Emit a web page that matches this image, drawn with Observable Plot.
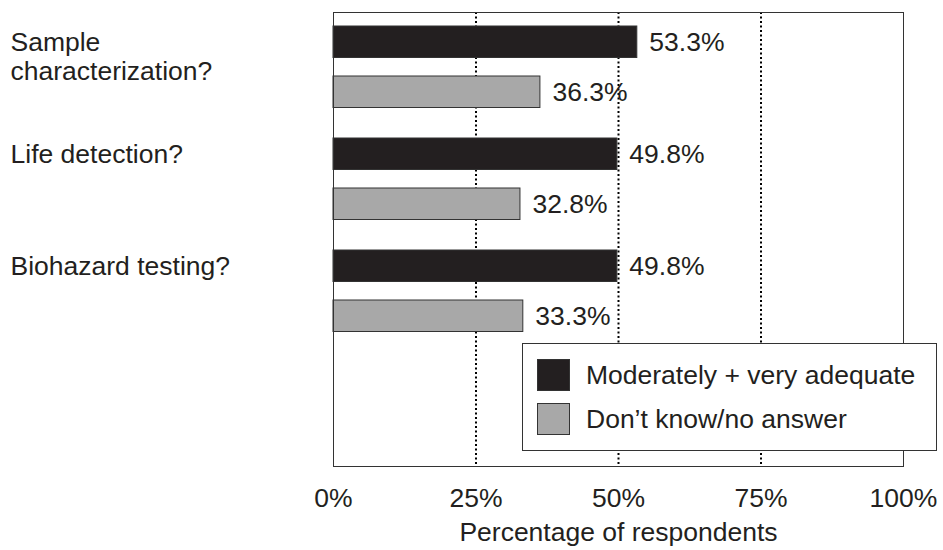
<!DOCTYPE html>
<html><head><meta charset="utf-8">
<script src="https://cdn.jsdelivr.net/npm/d3@7"></script>
<script src="https://cdn.jsdelivr.net/npm/@observablehq/plot@0.6"></script>
<style>
body{margin:0;background:#fff;font-family:"Liberation Sans",Arial,sans-serif;}
#wrap{position:relative;width:943px;height:550px;}
#legend{position:absolute;left:522px;top:343px;width:413px;height:106px;border:1px solid #333;background:#fff;color:#231f20;font-size:26.5px;}
.item{position:absolute;left:14px;display:flex;align-items:center;}
.sw{width:31px;height:30px;border:1px solid #333;margin-right:16px;}
</style></head><body><div id="wrap"></div><script>
const categories = ["Sample characterization?", "Life detection?", "Biohazard testing?"];
const categoryLabels = ["Sample\ncharacterization?", "Life detection?", "Biohazard testing?"];
const seriesNames = ["Moderately + very adequate", "Don\u2019t know/no answer"];
const seriesColors = ["#231f20", "#a8a8a8"];
const adequate = [53.3, 49.8, 49.8];
const dontKnow = [36.3, 32.8, 33.3];
const xTicks = [0, 25, 50, 75, 100];
const gridTicks = [25, 50, 75];
const axisTitle = "Percentage of respondents";

const rowsA = categories.map((c, i) => ({cat: c, value: adequate[i]}));
const rowsB = categories.map((c, i) => ({cat: c, value: dontKnow[i]}));

const chart = Plot.plot({
  width: 943, height: 550,
  marginLeft: 333, marginRight: 40, marginTop: 12, marginBottom: 84,
  style: {fontFamily: "'Liberation Sans', Arial, sans-serif", fontSize: "26.5px", color: "#231f20", background: "white"},
  x: {domain: [0, 100]},
  y: {domain: [...categories, ""], paddingInner: 0, paddingOuter: 0.018, align: 0, axis: null},
  marks: [
    Plot.ruleX(gridTicks, {stroke: "#000", strokeWidth: 2, strokeDasharray: "2,2.5"}),
    Plot.barX(rowsA, {x: "value", y: "cat", fill: seriesColors[0], stroke: "#333", insetTop: 14, insetBottom: 66.5}),
    Plot.barX(rowsB, {x: "value", y: "cat", fill: seriesColors[1], stroke: "#333", insetTop: 64, insetBottom: 16.5}),
    Plot.text(rowsA, {x: "value", y: "cat", text: d => d.value.toFixed(1) + "%", textAnchor: "start", dx: 12, dy: -26.25}),
    Plot.text(rowsB, {x: "value", y: "cat", text: d => d.value.toFixed(1) + "%", textAnchor: "start", dx: 12, dy: 23.75}),
    Plot.text(categories, {y: d => d, text: (d, i) => categoryLabels[i], frameAnchor: "left", textAnchor: "start", lineAnchor: "top", dx: -323, dy: -38.5, lineHeight: 1.1}),
    Plot.frame({stroke: "#333"}),
    Plot.axisX(xTicks, {tickSize: 0, tickPadding: 22, tickFormat: d => d + "%", label: axisTitle, labelAnchor: "center", labelArrow: "none", labelOffset: 74})
  ]
});
const wrap = document.getElementById("wrap");
wrap.appendChild(chart);
const legend = document.createElement("div");
legend.id = "legend";
seriesNames.forEach((name, i) => {
  const it = document.createElement("div");
  it.className = "item";
  it.style.top = (i === 0 ? 15 : 59) + "px";
  const sw = document.createElement("div");
  sw.className = "sw";
  sw.style.background = seriesColors[i];
  const t = document.createElement("span");
  t.textContent = name;
  it.appendChild(sw); it.appendChild(t);
  legend.appendChild(it);
});
wrap.appendChild(legend);
</script></body></html>
